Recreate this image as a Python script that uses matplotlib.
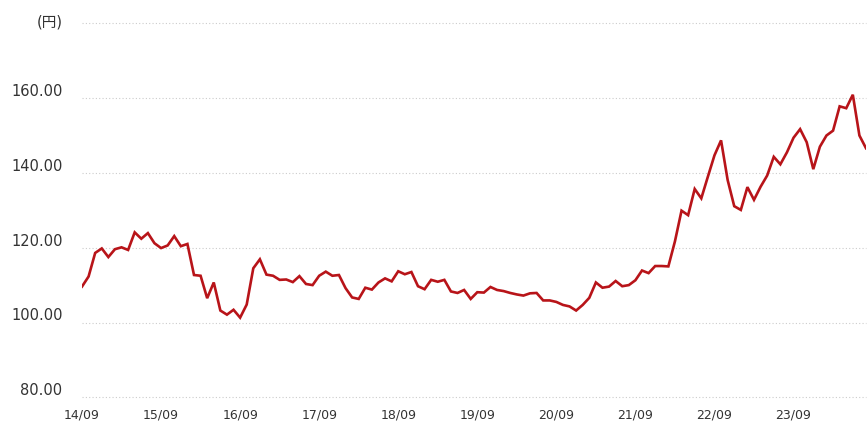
import numpy as np
import matplotlib
matplotlib.use('Agg')
import matplotlib.pyplot as plt
from matplotlib.transforms import ScaledTranslation

plt.rcParams['font.family'] = ['DejaVu Sans', 'Noto Sans CJK JP']

# month-end rate, 2014/09 .. 2024/08
rate = [
    109.6, 112.3, 118.6, 119.8,
    117.5, 119.6, 120.1, 119.4, 124.1, 122.4, 123.9, 121.2, 119.9, 120.6, 123.1, 120.4,
    121.0, 112.7, 112.5, 106.5, 110.7, 103.2, 102.1, 103.4, 101.3, 104.8, 114.5, 116.9,
    112.8, 112.5, 111.4, 111.5, 110.8, 112.4, 110.3, 110.0, 112.5, 113.6, 112.5, 112.7,
    109.2, 106.7, 106.3, 109.3, 108.8, 110.7, 111.8, 111.0, 113.7, 112.9, 113.5, 109.7,
    108.9, 111.4, 110.9, 111.4, 108.3, 107.9, 108.7, 106.3, 108.1, 108.0, 109.5, 108.7,
    108.4, 107.9, 107.5, 107.2, 107.8, 107.9, 105.9, 105.9, 105.5, 104.7, 104.3, 103.2,
    104.7, 106.6, 110.7, 109.3, 109.6, 111.1, 109.7, 110.0, 111.3, 113.9, 113.2, 115.1,
    115.1, 115.0, 121.7, 129.9, 128.7, 135.7, 133.2, 139.0, 144.7, 148.7, 138.1, 131.1,
    130.1, 136.2, 132.8, 136.3, 139.3, 144.3, 142.3, 145.5, 149.4, 151.7, 148.2, 141.0,
    147.0, 150.0, 151.3, 157.8, 157.3, 160.9, 150.0, 146.6,
]
x_labels = ['14/09', '15/09', '16/09', '17/09', '18/09',
            '19/09', '20/09', '21/09', '22/09', '23/09']
y_ticks = [80, 100, 120, 140, 160, 180]
y_labels = ['80.00', '100.00', '120.00', '140.00', '160.00', '(円)']

fig = plt.figure(figsize=(8.68, 4.46), dpi=100)
ax = fig.add_axes([82 / 868, 48.7 / 446, 784 / 868, 374 / 446])

months = np.arange(len(rate))
ax.plot(months, rate, color='#b81419', lw=1.9, solid_joinstyle='miter')

ax.set_xlim(0, len(rate) - 1)
ax.set_ylim(80, 180)
ax.set_xticks(np.arange(len(x_labels)) * 12)
ax.set_xticklabels(x_labels, fontsize=9, color='#333333')
ax.set_yticks(y_ticks)
ax.set_yticklabels(y_labels, fontsize=10.5, color='#333333')
ax.tick_params(axis='both', length=0)
ax.tick_params(axis='y', pad=14)
ax.tick_params(axis='x', pad=8)

# y labels sit a little above their gridlines; the unit label a bit lower
for lbl in ax.get_yticklabels():
    dy = 3 if lbl.get_text() == '(円)' else 8
    lbl.set_transform(lbl.get_transform() + ScaledTranslation(0, dy / 100, fig.dpi_scale_trans))

ax.grid(axis='y', color='#cccccc', lw=0.8, linestyle=(0, (1, 2)))
for gl in ax.get_ygridlines():
    gl.set_clip_on(False)
ax.set_axisbelow(True)
for s in ax.spines.values():
    s.set_visible(False)

fig.savefig('out.png', dpi=100)
